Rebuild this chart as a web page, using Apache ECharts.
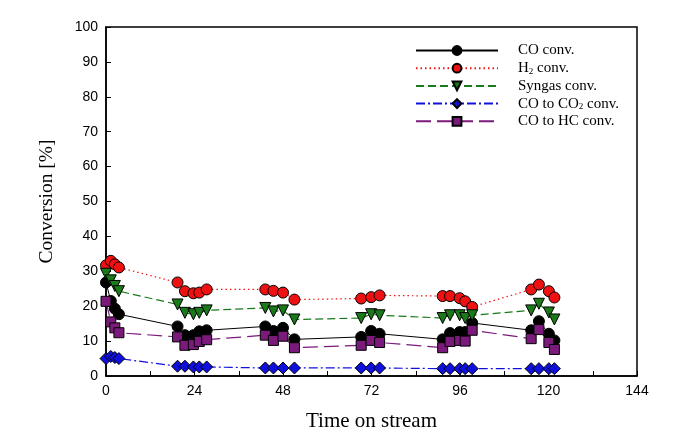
<!DOCTYPE html>
<html><head><meta charset="utf-8">
<script src="https://cdn.jsdelivr.net/npm/echarts@6/dist/echarts.min.js"></script>
<style>html,body{margin:0;padding:0;background:#fff}#c{width:673px;height:442px}</style>
</head><body><div id="c"></div>
<script>
const timeOnStream = [0, 1.3, 2.4, 3.5, 19.4, 21.4, 23.7, 25.3, 27.3, 43.2, 45.4, 48.0, 51.1, 69.2, 71.9, 74.2, 91.3, 93.3, 95.9, 97.4, 99.3, 115.3, 117.4, 120.1, 121.6];
const coConv     = [26.8, 21.5, 19.3, 17.7, 14.2, 11.7, 11.7, 12.8, 13.1, 14.2, 12.9, 13.8, 10.5, 11.2, 12.9, 12.1, 10.5, 12.3, 12.6, 12.6, 15.2, 13.1, 15.7, 12.1, 10.2];
const h2Conv     = [31.7, 33.0, 32.0, 31.1, 26.8, 24.3, 23.7, 23.9, 24.8, 24.8, 24.4, 23.9, 21.9, 22.2, 22.6, 23.1, 22.9, 22.9, 22.3, 21.4, 19.8, 24.8, 26.2, 24.3, 22.5];
const syngasConv = [29.3, 27.4, 25.8, 24.3, 20.5, 18.1, 17.7, 18.1, 18.8, 19.5, 18.5, 18.8, 16.2, 16.6, 17.7, 17.4, 16.6, 17.4, 17.4, 16.6, 17.4, 18.8, 20.7, 18.2, 16.2];
const coToCO2    = [5.0, 5.6, 5.3, 5.0, 2.8, 2.8, 2.6, 2.6, 2.6, 2.3, 2.3, 2.3, 2.3, 2.3, 2.3, 2.3, 2.1, 2.1, 2.1, 2.1, 2.1, 2.1, 2.1, 2.1, 2.1];
const coToHC     = [21.4, 15.5, 13.8, 12.4, 11.2, 8.8, 9.0, 9.9, 10.4, 11.7, 10.2, 11.4, 8.1, 8.8, 10.2, 9.6, 8.1, 9.9, 10.2, 10.0, 13.1, 10.7, 13.3, 9.6, 7.6];
const xTicks = [0, 24, 48, 72, 96, 120, 144];
const yTicks = [0, 10, 20, 30, 40, 50, 60, 70, 80, 90, 100];

const pairs = arr => timeOnStream.map((t, i) => [t, arr[i]]);
const serif = '"Liberation Serif", "Times New Roman", serif';
const sans = '"Liberation Sans", Arial, sans-serif';

function mk(name, data, color, symbol, dash, width, size, rot) {
  return {
    name, type: 'line', data: pairs(data), symbol, symbolSize: size, symbolRotate: rot || 0,
    lineStyle: { color, width, type: dash },
    itemStyle: { color, borderColor: '#000', borderWidth: 1 },
    emphasis: { disabled: true }, animation: false, z: 3
  };
}

const chart = echarts.init(document.getElementById('c'));
chart.setOption({
  animation: false,
  grid: { left: 106, top: 27, right: 36, bottom: 66, show: true, borderColor: '#000', borderWidth: 1.5, backgroundColor: 'transparent' },
  legend: {
    orient: 'vertical', left: 415, top: 43, padding: 0, itemWidth: 82, itemHeight: 11, itemGap: 2.7,
    textStyle: { fontFamily: serif, fontSize: 15, color: '#000', padding: [0, 0, 0, 15],
      rich: { a: { fontFamily: serif, fontSize: 15, color: '#000' }, s: { fontFamily: serif, fontSize: 9, color: '#000', padding: [6, 0, 0, 0] } } },
    formatter: n => {
      if (n === 'H2 conv.') return '{a|H}{s|2}{a| conv.}';
      if (n === 'CO to CO2 conv.') return '{a|CO to CO}{s|2}{a| conv.}';
      return '{a|' + n + '}';
    },
    data: ['CO conv.', 'H2 conv.', 'Syngas conv.', 'CO to CO2 conv.', 'CO to HC conv.']
  },
  xAxis: {
    type: 'value', min: xTicks[0], max: xTicks[xTicks.length - 1], interval: 12,
    name: 'Time on stream', nameLocation: 'middle', nameGap: 35,
    nameTextStyle: { fontFamily: serif, fontSize: 21, color: '#000' },
    axisLine: { lineStyle: { color: '#000', width: 1.5 } },
    axisTick: { inside: true, length: 5, lineStyle: { color: '#000' } },
    axisLabel: { fontFamily: sans, fontSize: 14, color: '#000', margin: 8,
      formatter: v => xTicks.includes(v) ? String(v) : '' },
    splitLine: { show: false }
  },
  yAxis: {
    type: 'value', min: yTicks[0], max: yTicks[yTicks.length - 1], interval: 10,
    name: 'Conversion [%]', nameLocation: 'middle', nameGap: 49,
    nameTextStyle: { fontFamily: serif, fontSize: 19.5, color: '#000' },
    axisLine: { lineStyle: { color: '#000', width: 1.5 } },
    axisTick: { inside: true, length: 5, lineStyle: { color: '#000' } },
    axisLabel: { fontFamily: sans, fontSize: 14, color: '#000', margin: 8 },
    splitLine: { show: false }
  },
  series: [
    mk('CO conv.', coConv, '#000000', 'circle', 'solid', 1, 11),
    mk('H2 conv.', h2Conv, '#ee1111', 'circle', [1.5, 3], 1.2, 11),
    mk('Syngas conv.', syngasConv, '#1a7a1a', 'triangle', [8, 4], 1.2, 11, 180),
    mk('CO to CO2 conv.', coToCO2, '#1010dd', 'diamond', [9, 3, 2, 3], 1.2, 12),
    mk('CO to HC conv.', coToHC, '#7a1a7a', 'rect', [15, 6], 1.2, 10)
  ]
});
</script></body></html>
